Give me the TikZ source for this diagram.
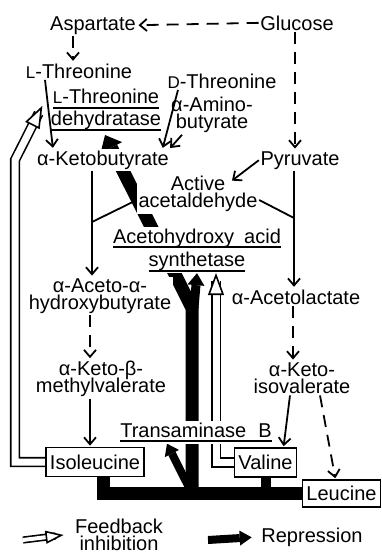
\documentclass[tikz,border=0pt]{standalone}
\usepackage{fontspec}
\setmainfont{Liberation Sans}
\usetikzlibrary{arrows.meta,shapes.geometric,backgrounds}
\newsavebox{\enzbox}
\newcommand{\enz}[1]{\sbox{\enzbox}{#1}\rlap{\rule[-5pt]{\wd\enzbox}{1.8pt}}\usebox{\enzbox}}
\newcommand{\lsc}[1]{{\fontsize{17}{17}\selectfont #1}}
\newcommand{\diafont}{\fontsize{20}{17.5}\selectfont\lineskiplimit=-50pt\relax}

\begin{document}
\begin{tikzpicture}[x=1pt,y=-1pt,font=\diafont,
  >={Straight Barb[length=7pt,width=12pt]},
  lbl/.style={fill=white,inner sep=1.5pt,align=center},
  box/.style={draw,line width=1.6pt,fill=white,inner xsep=4pt,inner ysep=1.5pt,minimum height=29pt},
  conv/.style={->,line width=1.8pt,shorten >=1pt},
  dconv/.style={conv,dash pattern=on 12pt off 8pt},
  rep/.style={line width=13pt,-{Triangle[length=14pt,width=24pt,line width=0pt]}},
  fb/.style={double,double distance=7pt,line width=1.6pt,shorten >=8pt},
  fbtip/.style={isosceles triangle,isosceles triangle stretches,draw,fill=white,
    line width=1.6pt,inner sep=0pt,minimum height=19pt,minimum width=14pt,
    sloped,anchor=apex,pos=1}]
  \useasboundingbox (0,0) rectangle (382,555);
  % precursors and intermediates
  \node[lbl,anchor=base] (asp) at (93,30) {Aspartate};
  \node[lbl,anchor=base] (glc) at (297,30) {Glucose};
  \node[lbl,anchor=base] (lthr) at (79,78) {\lsc{L}-Threonine};
  \node[lbl,anchor=base] (dthr) at (222,88) {\lsc{D}-Threonine};
  \node[lbl] (dehyd) at (106,110) {\enz{\lsc{L}-Threonine}\\[5pt]\enz{dehydratase}};
  \node[lbl] (amb) at (212,115) {α-Amino-\\butyrate};
  \node[lbl,anchor=base] (akb) at (103,165) {α-Ketobutyrate};
  \node[lbl,anchor=base] (pyr) at (300,165) {Pyruvate};
  \node[lbl] (aald) at (198,194) {Active\\acetaldehyde};
  \node[lbl] (ahas) at (197,250) {\enz{Acetohydroxy\hspace{0.5em}acid}\\[6pt]\enz{synthetase}};
  \node[lbl] (aah) at (100,296) {α-Aceto-α-\\hydroxybutyrate};
  \node[lbl,anchor=base] (alac) at (296,304) {α-Acetolactate};
  \node[lbl] (kmv) at (101,379) {α-Keto-β-\\methylvalerate};
  \node[lbl] (kiv) at (302,378) {α-Keto-\\isovalerate};
  \node[lbl,anchor=base] (tamb) at (196,437) {\enz{Transaminase\hspace{0.6em}B}};
  % end products
  \node[box] (ile) at (95,462) {Isoleucine};
  \node[box] (val) at (265.5,462.5) {Valine};
  \node[box,minimum height=27pt] (leu) at (341.5,493.5) {Leucine};
  % key
  \node[lbl] (fbkey) at (119,535) {Feedback\\inhibition};
  \node[lbl,anchor=base] (repkey) at (312,542) {Repression};
  \coordinate (fbtail) at (23,540);
  \coordinate (reptail) at (208,540);
  \coordinate (jl) at (92,222);
  \coordinate (jr) at (294,218);
  \coordinate (fork) at (192,308);
  \coordinate (dtip) at (105,135);
  \coordinate (fbl) at (15,160);

  % pathway
  \draw[dconv] (glc.west) -- (asp.east);
  \draw[dconv] ([xshift=-20pt]asp.south) -- ([xshift=-20pt]asp.south |- lthr.north);
  \draw[dconv] ([xshift=-2pt]glc.south) -- ([xshift=-2pt]glc.south |- pyr.north);
  \draw[conv] ([xshift=-34pt]lthr.south) -- ([xshift=-50pt]akb.north);
  \draw[conv] ([xshift=-44pt]dthr.south) -- ([xshift=-8pt]akb.north east);
  \draw[conv] ([xshift=-30pt]amb.south) -- ([xshift=-1pt]akb.north east);
  \draw[conv] (pyr.west) -- ([xshift=-28pt,yshift=-7pt]aald.north east);
  \draw[conv] ([xshift=-11pt]akb.south) -- ([xshift=-11pt]akb.south |- aah.north);
  \draw[conv] ([xshift=-6pt]pyr.south) -- ([xshift=-6pt]pyr.south |- alac.north);
  \draw[line width=1.8pt] ([yshift=-6pt]aald.west) -- (jl);
  \draw[line width=1.8pt] ([yshift=-6pt]aald.east) -- (jr);
  \draw[dconv] ([xshift=-10pt]aah.south) -- ([xshift=-10pt]aah.south |- kmv.north);
  \draw[dconv] ([xshift=-3pt]alac.south) -- ([xshift=-3pt]alac.south |- kiv.north);
  \draw[conv] ([xshift=-11pt]kmv.south) -- ([xshift=-11pt]kmv.south |- ile.north);
  \draw[conv] ([xshift=-12pt]kiv.south) -- ([xshift=18pt]val.north);
  \draw[dconv] ([xshift=18pt]kiv.south) -- ([xshift=-6pt]leu.north);

  \begin{scope}[on background layer]
    % repression
    \coordinate (foot) at (fork |- leu.west);
    \draw[rep,-] ([xshift=8pt]ile.south) |- (leu.west);
    \draw[rep,-,line width=10pt] (val.south) -- (val.south |- leu.west);
    \draw[rep] (foot) -- (fork) -- (dtip);
    \draw[rep,line width=9pt,-{Triangle[length=12pt,width=17pt,line width=0pt]}]
      ([xshift=2pt]fork) -- (ahas.south);
    \draw[rep,line width=8pt,-{Triangle[length=11pt,width=16pt,line width=0pt]}]
      (foot) -- ([xshift=-29pt]tamb.south);
    % feedback inhibition
    \draw[fb] (ile.west) -| (fbl) -- ([xshift=-7pt,yshift=4pt]dehyd.west);
    \path (fbl) -- ([xshift=-7pt,yshift=4pt]dehyd.west) node[fbtip] {};
    \draw[fb] (val.west) -| ([xshift=19pt]ahas.south);
    \path (val.west) -| ([xshift=19pt]ahas.south) node[fbtip] {};
    % key
    \draw[fb,double distance=4pt] (fbtail) -- ([xshift=-10pt]fbkey.west);
    \path (fbtail) -- ([xshift=-10pt]fbkey.west) node[fbtip,minimum height=15pt,minimum width=11pt] {};
    \draw[rep,line width=8pt,-{Triangle[length=12pt,width=15pt,line width=0pt]},shorten >=8pt]
      (reptail) -- (repkey.west);
  \end{scope}
\end{tikzpicture}
\end{document}
